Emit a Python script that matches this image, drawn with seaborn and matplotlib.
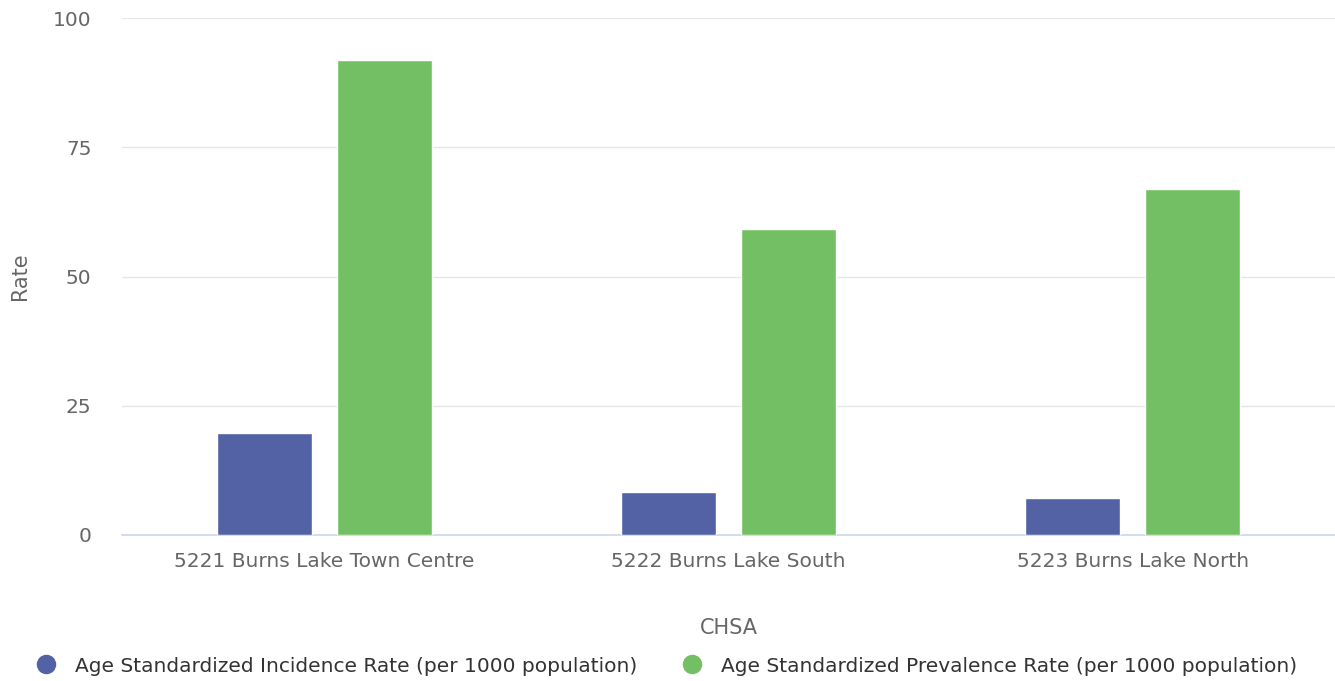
import matplotlib
matplotlib.use('Agg')
import matplotlib.pyplot as plt
from matplotlib.lines import Line2D
import seaborn as sns
import pandas as pd

# data
chsa = ['5221 Burns Lake Town Centre', '5222 Burns Lake South', '5223 Burns Lake North']
incidence = [19.7, 8.3, 7.2]
prevalence = [91.9, 59.2, 66.9]
series = ['Age Standardized Incidence Rate (per 1000 population)',
          'Age Standardized Prevalence Rate (per 1000 population)']
colors = ['#5362a5', '#72c063']

df = pd.DataFrame({
    'CHSA': chsa * 2,
    'Rate': incidence + prevalence,
    'Series': [series[0]] * 3 + [series[1]] * 3,
})

sns.set_style('white')
plt.rcParams['font.family'] = ['DejaVu Sans']
txt = '#666666'

fig = plt.figure(figsize=(13.35, 6.81), dpi=100)
ax = fig.add_axes([122 / 1335, 1 - 535 / 681, 1 - 122 / 1335, (535 - 18) / 681])

sns.barplot(data=df, x='CHSA', y='Rate', hue='Series', palette=colors,
            saturation=1, width=0.594, gap=0.21, ax=ax, legend=False, zorder=3,
            edgecolor='white', linewidth=1)

ax.set_ylim(0, 100)
ax.set_xlim(-0.5, 2.5)
ax.set_yticks([0, 25, 50, 75, 100])
ax.grid(axis='y', color='#e6e6e6', linewidth=1, zorder=0)
for s in ['top', 'right', 'left']:
    ax.spines[s].set_visible(False)
ax.spines['bottom'].set_color('#ccd6eb')
ax.spines['bottom'].set_linewidth(1.2)
ax.tick_params(axis='both', length=0, colors=txt, labelsize=14.5)
ax.tick_params(axis='y', pad=22)
ax.tick_params(axis='x', pad=12)
ax.set_xlabel('CHSA', color=txt, fontsize=15, labelpad=34)
ax.set_ylabel('Rate', color=txt, fontsize=15)
ax.yaxis.set_label_coords(-92 / 1213, 0.5)

handles = [Line2D([], [], marker='o', linestyle='', markersize=13,
                  markerfacecolor=c, markeredgecolor=c) for c in colors]
leg = fig.legend(handles, series, loc='center', bbox_to_anchor=(0.4955, 1 - 666 / 681),
                 ncol=2, frameon=False, fontsize=14.5, handletextpad=0.4,
                 columnspacing=1.75)
for t in leg.get_texts():
    t.set_color('#333333')

fig.savefig('out.png', dpi=100)
